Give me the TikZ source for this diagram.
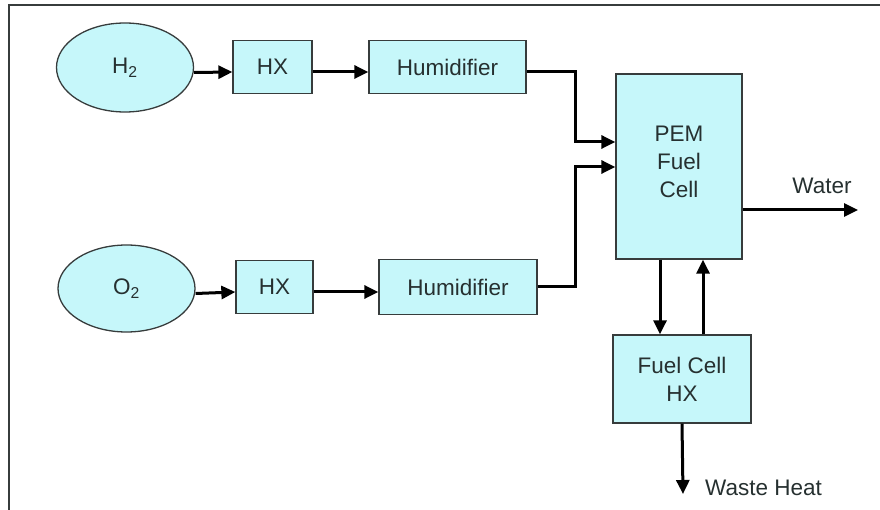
\documentclass[tikz,border=0pt]{standalone}
\usepackage{fontspec}
\setmainfont{Liberation Sans}
\usetikzlibrary{arrows.meta,shapes.geometric,positioning}

\definecolor{boxfill}{RGB}{198,247,250}
\definecolor{boxline}{RGB}{55,60,60}
\definecolor{textcol}{RGB}{38,48,48}

\tikzset{
  unit/.style={draw=boxline, line width=1.3pt, fill=boxfill, text=textcol,
    inner sep=0pt, align=center, font=\fontsize{22.5}{28}\selectfont},
  tank/.style={unit, ellipse},
  flow/.style={line width=3pt, -{Triangle[length=14pt,width=13pt]}},
  tag/.style={text=textcol, inner sep=0pt, font=\fontsize{22.5}{28}\selectfont}
}

\begin{document}
\begin{tikzpicture}[x=1pt,y=-1pt]
    \useasboundingbox (0,0) rectangle (880,510);
    \draw[boxline, line width=2pt] (9,510) -- (9,5) -- (880,5);

    \node[tank, minimum width=137, minimum height=89] (h2)   at (125,67.5)  {H\textsubscript{2}};
    \node[unit, minimum width=79,  minimum height=53] (hx1)  at (272.5,67)  {HX};
    \node[unit, minimum width=157, minimum height=53] (hum1) at (447.5,67)  {Humidifier};
    \node[tank, minimum width=137, minimum height=87] (o2)   at (126.5,288.5) {O\textsubscript{2}};
    \node[unit, minimum width=77,  minimum height=53] (hx2)  at (274.5,287) {HX};
    \node[unit, minimum width=158, minimum height=55] (hum2) at (458,287)   {Humidifier};
    \node[unit, minimum width=126, minimum height=185] (pem) at (679,166.5) {PEM\\Fuel\\Cell\\[-18pt]};
    \node[unit, minimum width=138, minimum height=88] (fchx) at (682,379)   {Fuel Cell\\HX};

    \node[tag] (water) at (822,186) {Water};
    \node[tag, anchor=west] (waste) at (705,488) {Waste Heat};

    \coordinate (j1) at (575,142);
    \coordinate (j2) at (575,167);
    \coordinate (wout) at (858,210);
    \coordinate (hout) at (683,494);

    \draw[flow] ([yshift=-5]h2.east) -- ([yshift=-5]hx1.west);
    \draw[flow] ([yshift=-5]hx1.east) -- ([yshift=-5]hum1.west);
    \draw[flow] ([yshift=-5]o2.east) -- ([yshift=-5]hx2.west);
    \draw[flow] ([yshift=-5]hx2.east) -- ([yshift=-5]hum2.west);
    \draw[flow] ([yshift=-5]hum1.east) -| (j1) -- (pem.west |- j1);
    \draw[flow] (hum2.east) -| (j2) -- (pem.west |- j2);
    \draw[flow] (pem.east |- wout) -- (wout);
    \draw[flow] ([xshift=-19]pem.south) -- ([xshift=-22]fchx.north);
    \draw[flow] ([xshift=21]fchx.north) -- ([xshift=24]pem.south);
    \draw[flow] (fchx.south) -- (hout);
\end{tikzpicture}
\end{document}
